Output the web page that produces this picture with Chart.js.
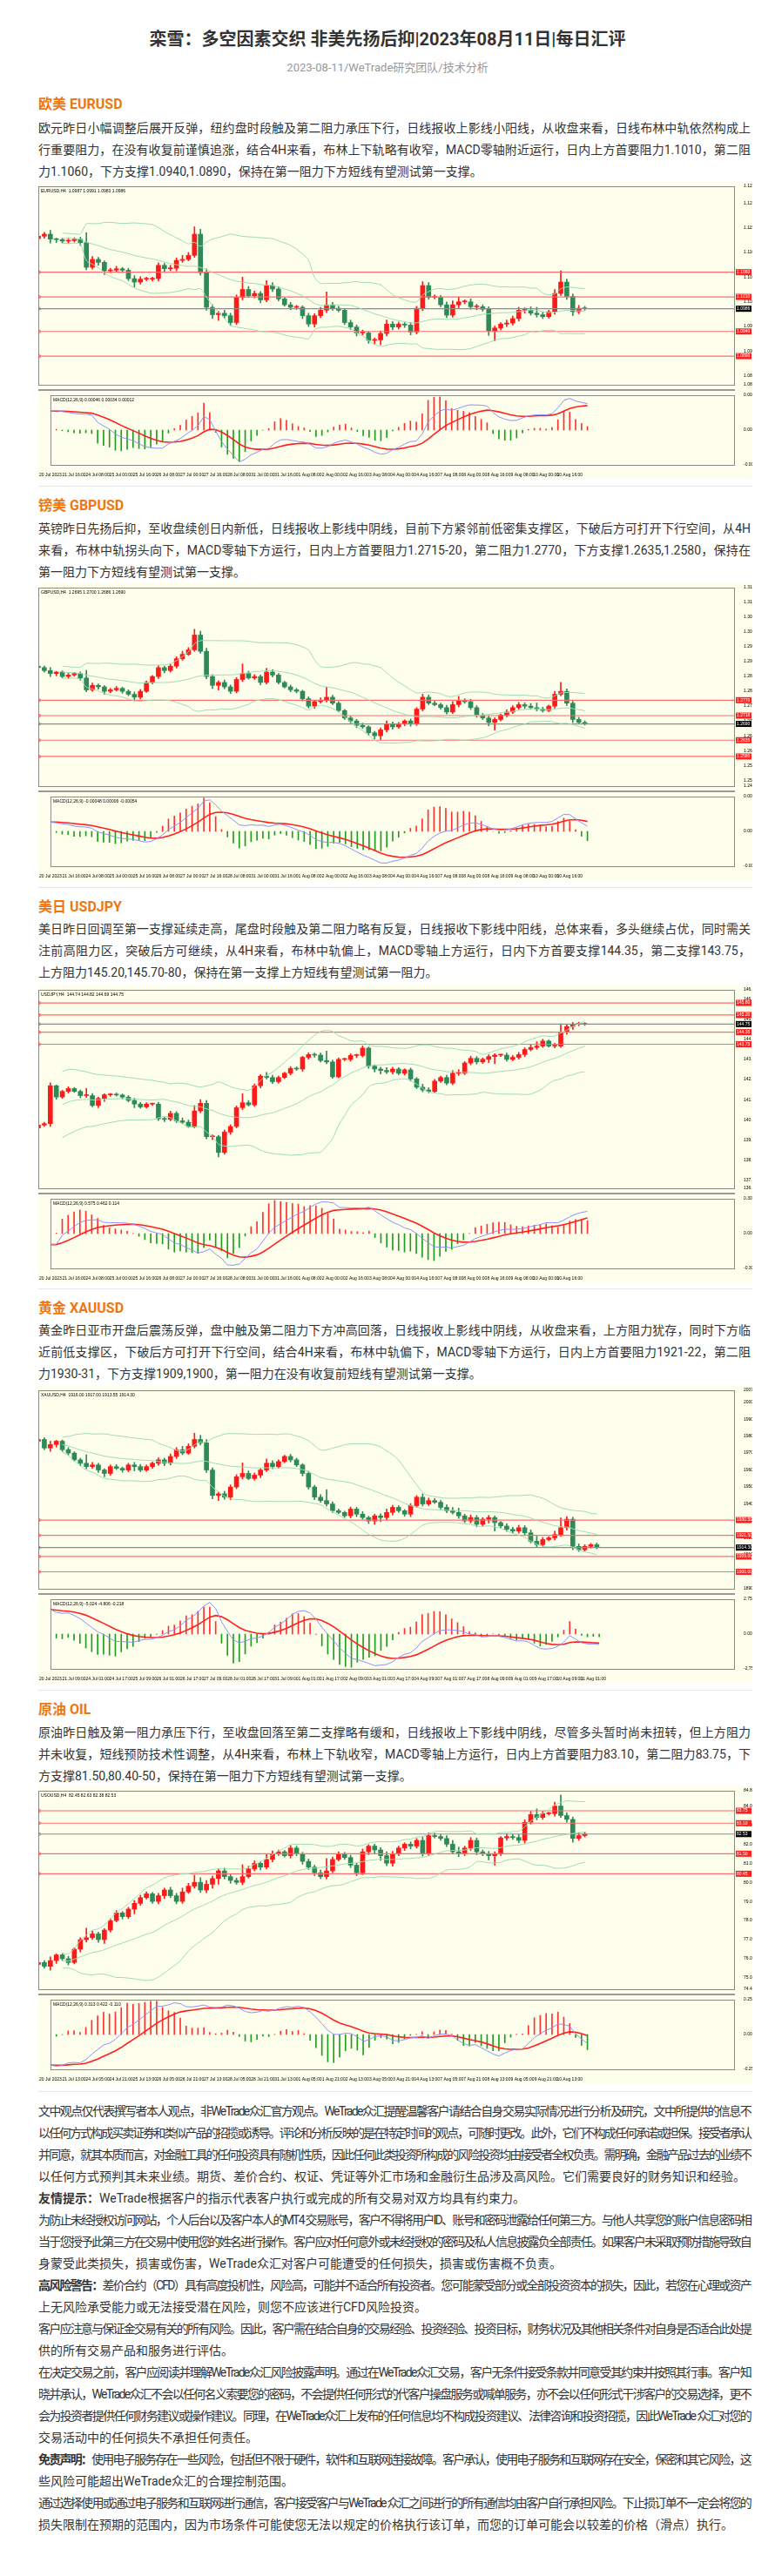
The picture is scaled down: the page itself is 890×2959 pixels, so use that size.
<!DOCTYPE html>
<html><head><meta charset="utf-8">
<script src="https://cdn.jsdelivr.net/npm/chart.js@4.4.0/dist/chart.umd.min.js"></script>
<style>
body{margin:0;background:#fff;font-family:Roboto,"Noto Sans CJK SC","Noto Sans",sans-serif;color:#333;}
#page{position:relative;width:890px;height:2959px;}
.abs{position:absolute;left:44px;width:818px;}
.title{position:absolute;left:0;width:890px;text-align:center;top:30px;font-size:20px;font-weight:bold;line-height:30px;color:#333;}
.sub{position:absolute;left:0;width:890px;text-align:center;top:69px;font-size:13px;line-height:18px;color:#999;}
.h{font-size:16px;font-weight:bold;color:#ee7711;line-height:22px;}
.t{font-size:14px;line-height:25px;}
.t div{white-space:nowrap;height:25px;overflow:visible;}
.t div.j{text-align:justify;text-align-last:justify;}
.sep{position:absolute;left:44px;width:820px;height:1px;background:#e6e6e6;}
.chart{position:absolute;left:44px;width:820px;height:341px;background:#fefeec;}
.chart canvas{display:block;}
.dv{height:2px;background:#999;width:800px;}
</style></head><body><div id="page">
<div class="title">栾雪：多空因素交织 非美先扬后抑|2023年08月11日|每日汇评</div>
<div class="sub">2023-08-11/WeTrade研究团队/技术分析</div>

<div class="abs h" style="top:109px">欧美 EURUSD</div>
<div class="abs t" style="top:134.5px">
<div class="j">欧元昨日小幅调整后展开反弹，纽约盘时段触及第二阻力承压下行，日线报收上影线小阳线，从收盘来看，日线布林中轨依然构成上</div>
<div class="j">行重要阻力，在没有收复前谨慎追涨，结合4H来看，布林上下轨略有收窄，MACD零轴附近运行，日内上方首要阻力1.1010，第二阻</div>
<div>力1.1060，下方支撑1.0940,1.0890，保持在第一阻力下方短线有望测试第一支撑。</div></div>
<div class="chart" style="top:209px"><canvas id="m0" width="820" height="238"></canvas><div class="dv"></div><canvas id="d0" width="820" height="101"></canvas></div>
<div class="sep" style="top:558px"></div>

<div class="abs h" style="top:570px">镑美 GBPUSD</div>
<div class="abs t" style="top:594.5px">
<div class="j">英镑昨日先扬后抑，至收盘续创日内新低，日线报收上影线中阴线，目前下方紧邻前低密集支撑区，下破后方可打开下行空间，从4H</div>
<div class="j">来看，布林中轨拐头向下，MACD零轴下方运行，日内上方首要阻力1.2715-20，第二阻力1.2770，下方支撑1.2635,1.2580，保持在</div>
<div>第一阻力下方短线有望测试第一支撑。</div></div>
<div class="chart" style="top:670px"><canvas id="m1" width="820" height="238"></canvas><div class="dv"></div><canvas id="d1" width="820" height="101"></canvas></div>
<div class="sep" style="top:1019px"></div>

<div class="abs h" style="top:1031px">美日 USDJPY</div>
<div class="abs t" style="top:1054.5px">
<div class="j">美日昨日回调至第一支撑延续走高，尾盘时段触及第二阻力略有反复，日线报收下影线中阳线，总体来看，多头继续占优，同时需关</div>
<div class="j">注前高阻力区，突破后方可继续，从4H来看，布林中轨偏上，MACD零轴上方运行，日内下方首要支撑144.35，第二支撑143.75，</div>
<div>上方阻力145.20,145.70-80，保持在第一支撑上方短线有望测试第一阻力。</div></div>
<div class="chart" style="top:1132px"><canvas id="m2" width="820" height="238"></canvas><div class="dv"></div><canvas id="d2" width="820" height="101"></canvas></div>
<div class="sep" style="top:1480px"></div>

<div class="abs h" style="top:1492px">黄金 XAUUSD</div>
<div class="abs t" style="top:1515.5px">
<div class="j">黄金昨日亚市开盘后震荡反弹，盘中触及第二阻力下方冲高回落，日线报收上影线中阴线，从收盘来看，上方阻力犹存，同时下方临</div>
<div class="j">近前低支撑区，下破后方可打开下行空间，结合4H来看，布林中轨偏下，MACD零轴下方运行，日内上方首要阻力1921-22，第二阻</div>
<div>力1930-31，下方支撑1909,1900，第一阻力在没有收复前短线有望测试第一支撑。</div></div>
<div class="chart" style="top:1592px"><canvas id="m3" width="820" height="238"></canvas><div class="dv"></div><canvas id="d3" width="820" height="101"></canvas></div>
<div class="sep" style="top:1941px"></div>

<div class="abs h" style="top:1953px">原油 OIL</div>
<div class="abs t" style="top:1977.5px">
<div class="j">原油昨日触及第一阻力承压下行，至收盘回落至第二支撑略有缓和，日线报收上下影线中阴线，尽管多头暂时尚未扭转，但上方阻力</div>
<div class="j">并未收复，短线预防技术性调整，从4H来看，布林上下轨收窄，MACD零轴上方运行，日内上方首要阻力83.10，第二阻力83.75，下</div>
<div>方支撑81.50,80.40-50，保持在第一阻力下方短线有望测试第一支撑。</div></div>
<div class="chart" style="top:2052px"><canvas id="m4" width="820" height="238"></canvas><div class="dv"></div><canvas id="d4" width="820" height="101"></canvas></div>
<div class="sep" style="top:2402px"></div>

<div class="abs t" style="top:2412.5px">
<div class="j">文中观点仅代表撰写者本人观点，非WeTrade众汇官方观点。WeTrade众汇提醒温馨客户请结合自身交易实际情况进行分析及研究，文中所提供的信息不</div>
<div class="j">以任何方式构成买卖证券和类似产品的招揽或诱导。评论和分析反映的是在特定时间的观点，可随时更改。此外，它们不构成任何承诺或担保。接受者承认</div>
<div class="j">并同意，就其本质而言，对金融工具的任何投资具有随机性质，因此任何此类投资所构成的风险投资均由接受者全权负责。需明确，金融产品过去的业绩不</div>
<div>以任何方式预判其未来业绩。期货、差价合约、权证、凭证等外汇市场和金融衍生品涉及高风险。它们需要良好的财务知识和经验。</div>
<div><b>友情提示：</b>WeTrade根据客户的指示代表客户执行或完成的所有交易对双方均具有约束力。</div>
<div class="j">为防止未经授权访问网站，个人后台以及客户本人的MT4 交易账号，客户不得将用户ID、账号和密码泄露给任何第三方。与他人共享您的账户信息密码相</div>
<div class="j">当于您授予此第三方在交易中使用您的姓名进行操作。客户应对任何意外或未经授权的密码及私人信息披露负全部责任。如果客户未采取预防措施导致自</div>
<div>身蒙受此类损失，损害或伤害，WeTrade众汇对客户可能遭受的任何损失，损害或伤害概不负责。</div>
<div class="j"><b>高风险警告：</b>差价合约（CFD）具有高度投机性，风险高，可能并不适合所有投资者。您可能蒙受部分或全部投资资本的损失，因此，若您在心理或资产</div>
<div>上无风险承受能力或无法接受潜在风险，则您不应该进行CFD风险投资。</div>
<div class="j">客户应注意与保证金交易有关的所有风险。因此，客户需在结合自身的交易经验、投资经验、投资目标，财务状况及其他相关条件对自身是否适合此处提</div>
<div>供的所有交易产品和服务进行评估。</div>
<div class="j">在决定交易之前，客户应阅读并理解WeTrade众汇风险披露声明。通过在WeTrade众汇交易，客户无条件接受条款并同意受其约束并按照其行事。客户知</div>
<div class="j">晓并承认，WeTrade众汇不会以任何名义索要您的密码，不会提供任何形式的代客户操盘服务或喊单服务，亦不会以任何形式干涉客户的交易选择，更不</div>
<div class="j">会为投资者提供任何财务建议或操作建议。同理，在WeTrade众汇上发布的任何信息均不构成投资建议、法律咨询和投资招揽，因此WeTrade 众汇对您的</div>
<div>交易活动中的任何损失不承担任何责任。</div>
<div class="j"><b>免责声明：</b>使用电子服务存在一些风险，包括但不限于硬件，软件和互联网连接故障。客户承认，使用电子服务和互联网存在安全，保密和其它风险，这</div>
<div>些风险可能超出WeTrade众汇的合理控制范围。</div>
<div class="j">通过选择使用或通过电子服务和互联网进行通信，客户接受客户与WeTrade 众汇之间进行的所有通信均由客户自行承担风险。下止损订单不一定会将您的</div>
<div>损失限制在预期的范围内，因为市场条件可能使您无法以规定的价格执行该订单，而您的订单可能会以较差的价格（滑点）执行。</div>
</div>
</div>
<script>
// fit each text line into the column width
document.querySelectorAll('.t div').forEach(d=>{let ls=0;while(d.scrollWidth>818&&ls>-2){ls-=0.05;d.style.letterSpacing=ls+'px';}});

// ---------- DATA ----------
const eurOpen0 = 1.1128;
const eurCloses = [1.1133,1.1137,1.1127,1.1126,1.1123,1.1124,1.1127,1.1120,1.1070,1.1086,
1.1080,1.1063,1.1064,1.1067,1.1064,1.1047,1.1040,1.1046,1.1046,1.1047,
1.1074,1.1067,1.1068,1.1084,1.1086,1.1094,1.1137,1.1059,1.0989,1.0974,
1.0977,1.0972,1.0958,1.1009,1.1025,1.1012,1.1017,1.1004,1.1033,1.1026,
1.1006,1.0994,1.0989,1.0989,1.0972,1.0955,1.0972,1.0983,1.0994,1.0987,
1.0983,1.0958,1.0949,1.0937,1.0937,1.0922,1.0923,1.0936,1.0955,1.0949,
1.0955,1.0953,1.0939,1.0987,1.1033,1.1009,1.1009,1.0994,1.0973,1.0994,
1.1000,1.1000,1.0990,1.0990,1.0985,1.0941,1.0947,1.0955,1.0957,1.0966,
1.0983,1.0983,1.0977,1.0974,1.0970,1.0980,1.1017,1.1040,1.1011,1.0980,
1.0987,1.0986];
const eurLevels = [1.1060,1.1010,1.0940,1.0890];
const eurPrice = 1.0986;

const gbpOpen0 = 1.2885;
const gbpCloses = [1.2880,1.2870,1.2860,1.2865,1.2850,1.2855,1.2860,1.2845,1.2805,1.2820,
1.2815,1.2800,1.2805,1.2810,1.2800,1.2790,1.2780,1.2800,1.2830,1.2850,
1.2880,1.2870,1.2885,1.2910,1.2925,1.2940,1.2990,1.2935,1.2850,1.2820,
1.2830,1.2815,1.2800,1.2840,1.2860,1.2845,1.2850,1.2830,1.2865,1.2855,
1.2830,1.2815,1.2805,1.2800,1.2775,1.2750,1.2765,1.2770,1.2780,1.2760,
1.2735,1.2710,1.2700,1.2685,1.2680,1.2660,1.2650,1.2670,1.2690,1.2680,
1.2690,1.2700,1.2690,1.2740,1.2780,1.2760,1.2755,1.2745,1.2730,1.2755,
1.2770,1.2765,1.2745,1.2720,1.2710,1.2695,1.2705,1.2720,1.2730,1.2745,
1.2755,1.2750,1.2745,1.2740,1.2735,1.2750,1.2790,1.2800,1.2760,1.2705,
1.2695,1.2690];
const gbpLevels = [1.2770,1.2718,1.2635,1.2580];
const gbpPrice = 1.2690;

const jpyOpen0 = 139.60;
const jpyCloses = [139.74,139.81,141.69,141.13,141.41,141.55,141.41,141.20,141.20,140.71,
141.06,141.24,141.24,141.23,141.13,140.96,140.78,140.64,140.78,140.78,
140.05,140.02,140.32,139.95,139.88,139.67,140.44,140.82,139.16,139.16,
138.38,139.39,139.67,140.60,140.85,140.74,141.69,142.17,142.10,141.89,
142.10,142.31,142.55,142.52,143.10,143.24,143.21,142.94,142.87,142.13,
143.00,143.00,143.19,143.19,143.56,142.66,142.52,142.45,142.38,142.52,
142.31,142.48,142.03,141.62,141.48,141.41,141.92,142.10,141.82,142.31,
142.31,142.82,143.05,142.87,143.00,143.14,143.21,143.21,143.00,143.10,
143.24,143.49,143.59,143.66,143.91,143.66,143.66,144.35,144.63,144.74,
144.74,144.75];
const jpyLevels = [145.80,145.20,144.35,143.75];
const jpyPrice = 144.75;

const xauOpen0 = 1977;
const xauCloses = [1978,1973,1975,1977,1972,1970,1966,1964,1962,1963,
1960,1958,1962,1961,1960,1963,1962,1960,1962,1964,
1966,1964,1968,1972,1970,1974,1978,1976,1960,1945,
1946,1944,1950,1956,1958,1955,1957,1960,1964,1962,
1965,1968,1966,1963,1958,1950,1944,1942,1940,1936,
1935,1933,1937,1934,1932,1930,1933,1932,1935,1938,
1936,1934,1939,1944,1940,1942,1941,1938,1936,1935,
1933,1930,1932,1928,1931,1932,1929,1927,1925,1924,
1926,1923,1918,1916,1919,1920,1922,1926,1931,1915,
1913,1915,1916,1914.3];
const xauLevels = [1930.5,1921.5,1909,1900];
const xauPrice = 1914.3;

const oilOpen0 = 75.7;
const oilCloses = [75.8,75.6,75.9,76.2,76.0,75.8,76.5,77.0,77.1,77.3,
77.0,77.5,78.0,78.4,78.2,78.6,78.9,79.2,79.4,79.0,
79.3,79.6,79.3,79.0,79.5,79.8,80.0,79.6,79.9,80.2,
80.6,80.3,80.1,80.0,80.3,80.7,81.0,80.8,81.2,81.5,
81.6,81.4,81.8,81.5,81.1,80.8,80.5,80.3,80.6,81.2,
81.5,81.3,80.9,80.5,81.6,81.9,81.7,81.4,81.0,81.5,
81.8,82.0,81.9,82.2,81.5,82.45,82.4,82.3,82.0,81.6,
81.5,81.8,82.2,81.6,81.5,81.4,81.5,82.33,82.4,82.35,
82.2,83.15,83.55,83.4,83.6,83.6,84.0,83.5,83.3,82.3,82.45,82.53];
const oilLevels = [83.75,83.10,81.50,80.45];
const oilPrice = 82.53;

// typical wick sizes read per bar (in each chart's wick unit)
const wickUp = [3,4,8,2,3,5,3,4,20,6, 4,3,4,5,3,4,6,5,4,3, 5,4,6,5,8,6,15,10,8,5, 4,6,5,5,25,6,5,4,10,6, 4,3,5,4,3,5,4,6,26,5, 4,3,5,4,6,3,4,5,8,5, 4,3,5,4,8,6,5,4,6,8, 10,4,6,5,4,5,4,3,6,5, 6,5,7,12,5,3,8,23,6,5, 6,4,3,4];
const wickDn = [3,4,8,6,4,5,3,6,5,4, 6,8,4,3,5,4,10,4,3,4, 5,6,4,5,4,3,4,5,6,8, 12,5,6,4,5,3,4,6,4,5, 4,3,5,4,6,5,6,4,5,4, 3,4,5,6,4,6,8,10,5,6, 4,5,6,4,5,4,3,4,5,4, 6,4,5,6,4,9,20,4,5,4, 5,6,4,5,4,3,5,4,6,8, 4,3,4,3];

const fxTimes = ['20 Jul 2023','21 Jul 16:00','24 Jul 08:00','25 Jul 00:00','25 Jul 16:00','26 Jul 08:00','27 Jul 00:00','27 Jul 16:00','28 Jul 08:00','31 Jul 00:00','31 Jul 16:00','1 Aug 08:00','2 Aug 00:00','2 Aug 16:00','3 Aug 08:00','4 Aug 00:00','4 Aug 16:00','7 Aug 08:00','8 Aug 00:00','8 Aug 16:00','9 Aug 08:00','10 Aug 00:00','10 Aug 16:00'];
const xauTimes = ['20 Jul 2023','21 Jul 09:00','24 Jul 01:00','24 Jul 17:00','25 Jul 09:00','26 Jul 01:00','26 Jul 17:00','27 Jul 09:00','28 Jul 01:00','28 Jul 17:00','31 Jul 09:00','1 Aug 01:00','1 Aug 17:00','2 Aug 09:00','3 Aug 01:00','3 Aug 17:00','4 Aug 09:00','7 Aug 01:00','7 Aug 17:00','8 Aug 09:00','9 Aug 01:00','9 Aug 17:00','10 Aug 09:00','11 Aug 01:00'];
const oilTimes = ['20 Jul 2023','21 Jul 13:00','24 Jul 05:00','24 Jul 21:00','25 Jul 13:00','26 Jul 05:00','26 Jul 21:00','27 Jul 13:00','28 Jul 05:00','28 Jul 21:00','31 Jul 13:00','1 Aug 05:00','1 Aug 21:00','2 Aug 13:00','3 Aug 05:00','3 Aug 21:00','4 Aug 13:00','7 Aug 05:00','7 Aug 21:00','8 Aug 13:00','9 Aug 05:00','9 Aug 21:00','10 Aug 13:00'];

const charts = [
 {id:0,sym:'EURUSD,H4',open0:eurOpen0,closes:eurCloses,levels:eurLevels,price:eurPrice,min:1.0832,max:1.1234,unit:0.0001,dec:4,times:fxTimes},
 {id:1,sym:'GBPUSD,H4',open0:gbpOpen0,closes:gbpCloses,levels:gbpLevels,price:gbpPrice,min:1.2480,max:1.3150,unit:0.00013,dec:4,times:fxTimes},
 {id:2,sym:'USDJPY,H4',open0:jpyOpen0,closes:jpyCloses,levels:jpyLevels,price:jpyPrice,min:136.6,max:146.45,unit:0.018,dec:2,times:fxTimes},
 {id:3,sym:'XAUUSD,H4',open0:xauOpen0,closes:xauCloses,levels:xauLevels,price:xauPrice,min:1890,max:2007,unit:0.25,dec:2,times:xauTimes},
 {id:4,sym:'USOUSD,H4',open0:oilOpen0,closes:oilCloses,levels:oilLevels,price:oilPrice,min:74.4,max:84.8,unit:0.025,dec:2,times:oilTimes}
];
const NSLOTS = 117;

// ---------- helpers ----------
function ema(a,n){const k=2/(n+1);const r=[];a.forEach((v,i)=>r.push(i?v*k+r[i-1]*(1-k):v));return r;}
const RED='#ff1a1a', GRN='#2e8b57';
const frame={id:'frame',afterDraw(c){const a=c.chartArea,x=c.ctx;x.save();x.strokeStyle='#8a8a8a';x.lineWidth=1;x.strokeRect(a.left+0.5,a.top+0.5,a.right-a.left-1,a.bottom-a.top);x.restore();}};

charts.forEach(cf=>{
  const n=cf.closes.length, opens=[], highs=[], lows=[];
  for(let i=0;i<n;i++){const o=i?cf.closes[i-1]:cf.open0,c=cf.closes[i];opens.push(o);
    highs.push(Math.max(o,c)+wickUp[i]*cf.unit);lows.push(Math.min(o,c)-wickDn[i]*cf.unit);}
  const labels=Array.from({length:NSLOTS},(_,i)=>i);
  const pad=a=>a.concat(Array(NSLOTS-a.length).fill(null));
  const body=pad(cf.closes.map((c,i)=>[opens[i],c]));
  const wick=pad(cf.closes.map((c,i)=>[lows[i],highs[i]]));
  const cols=pad(cf.closes.map((c,i)=>c>=opens[i]?RED:GRN));
  const mid=[],up=[],lo=[];
  for(let i=0;i<n;i++){if(i<4){mid.push(null);up.push(null);lo.push(null);continue;}
    const w=cf.closes.slice(Math.max(0,i-19),i+1);const m=w.reduce((s,v)=>s+v,0)/w.length;
    const sd=Math.sqrt(w.reduce((s,v)=>s+(v-m)*(v-m),0)/w.length);mid.push(m);up.push(m+2*sd);lo.push(m-2*sd);}
  const bandDs=a=>({type:'line',data:pad(a),borderColor:'#9edcb2',borderWidth:1,pointRadius:0,tension:0.3,fill:false});
  const lvlDs=(v,col,w)=>({type:'line',data:Array(NSLOTS).fill(v),borderColor:col,borderWidth:w,pointRadius:0});
  const labelPlugin={id:'lbl',afterDraw(c){const x=c.ctx,ys=c.scales.y,a=c.chartArea;x.save();x.font='5px sans-serif';x.textBaseline='middle';
      const box=(v,bg)=>{const py=ys.getPixelForValue(v);x.fillStyle=bg;x.fillRect(a.right+1,py-3.5,18,7);x.fillStyle='#fff';x.fillText(v.toFixed(cf.dec),a.right+2,py);
        x.strokeStyle=bg==='#000'?'#888':'#ff5555';x.beginPath();x.arc(a.left+1,py,1.5,0,7);x.stroke();};
      cf.levels.forEach(v=>box(v,'#ff2020'));box(cf.price,'#000');
      x.fillStyle='#000';x.textBaseline='top';const L=n-1;
      x.fillText(cf.sym+'  '+opens[L].toFixed(cf.dec)+' '+highs[L].toFixed(cf.dec)+' '+lows[L].toFixed(cf.dec)+' '+cf.closes[L].toFixed(cf.dec),a.left+3,a.top+3);x.restore();}};
  new Chart(document.getElementById('m'+cf.id),{type:'bar',
    data:{labels,datasets:[
      bandDs(up),bandDs(mid),bandDs(lo),
      ...cf.levels.map(v=>lvlDs(v,'#ff6b6b',1.2)),lvlDs(cf.price,'#8c8c8c',1.2),
      {data:wick,backgroundColor:cols,barThickness:1,grouped:false},
      {data:body,backgroundColor:cols,barThickness:5,grouped:false,minBarLength:1}]},
    options:{responsive:false,animation:false,events:[],layout:{padding:{top:2,bottom:0,left:0,right:0}},
      plugins:{legend:{display:false},tooltip:{enabled:false}},
      scales:{x:{display:false,offset:false},
        y:{position:'right',min:cf.min,max:cf.max,grid:{display:false},border:{display:false},
          ticks:{font:{size:5},color:'#000',maxTicksLimit:16,padding:2,callback:v=>v.toFixed(cf.dec)},
          afterFit:s=>{s.width=20;}}}},
    plugins:[frame,labelPlugin]});
  const e12=ema(cf.closes,12),e26=ema(cf.closes,26);
  const macd=e12.map((v,i)=>v-e26[i]);const sig=ema(macd,9);const hist=macd.map((v,i)=>v-sig[i]);
  const hm=Math.max(...hist.map(Math.abs))*1.05;
  const lmin=Math.min(...macd,...sig),lmax=Math.max(...macd,...sig),lr=(lmax-lmin)*0.05;
  new Chart(document.getElementById('d'+cf.id),{type:'bar',
    data:{labels,datasets:[
      {type:'line',data:pad(macd),borderColor:'#8f8fff',borderWidth:1,pointRadius:0,yAxisID:'y2'},
      {type:'line',data:pad(sig),borderColor:'#ff2020',borderWidth:1.6,pointRadius:0,yAxisID:'y2'},
      {data:pad(hist),backgroundColor:pad(hist.map(v=>v>=0?'#ff3030':'#1e9e1e')),barThickness:1,yAxisID:'y'}]},
    options:{responsive:false,animation:false,events:[],layout:{padding:{top:2,bottom:0,left:0,right:0}},
      plugins:{legend:{display:false},tooltip:{enabled:false}},
      scales:{x:{offset:false,grid:{display:false},border:{display:false},
          ticks:{autoSkip:false,maxRotation:0,font:{size:5},color:'#000',padding:1,
            callback:(v,i)=>i%4===0&&cf.times[i/4]?cf.times[i/4]:''}},
        y:{position:'right',min:-hm,max:hm,grid:{display:false},border:{display:false},
          afterBuildTicks:s=>{s.ticks=[{value:-hm},{value:0},{value:hm}];},
          ticks:{font:{size:5},color:'#000',padding:2,callback:v=>v===0?'0.00':v.toFixed(cf.dec+1)},
          afterFit:s=>{s.width=20;}},
        y2:{display:false,min:lmin-lr,max:lmax+lr}}},
    plugins:[frame,{id:'mt',afterDraw(c){const x=c.ctx,a=c.chartArea;x.save();x.font='5px sans-serif';x.fillStyle='#000';x.textBaseline='top';
      const L=n-1;x.fillText('MACD(12,26,9) '+macd[L].toFixed(cf.dec+1)+' '+sig[L].toFixed(cf.dec+1)+' '+hist[L].toFixed(cf.dec+1),a.left+3,a.top+3);x.restore();}}]});
});
</script></body></html>
